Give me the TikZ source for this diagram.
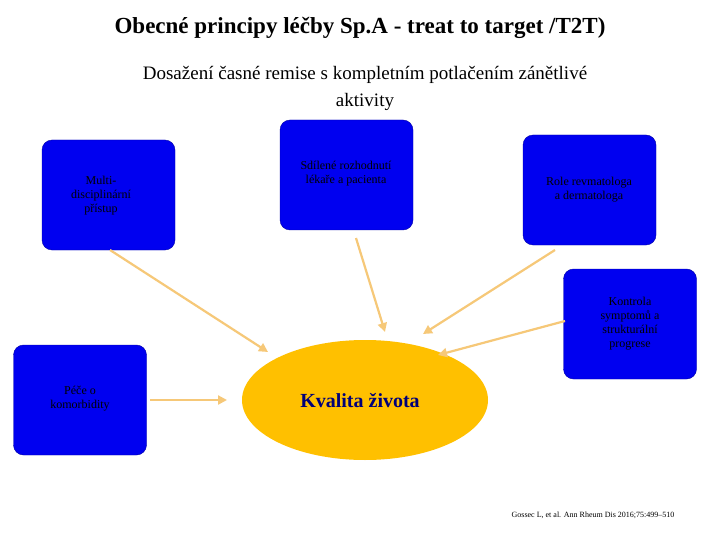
\documentclass[tikz,border=0pt]{standalone}
\usepackage{fontspec}
\setmainfont{Liberation Serif}
\usetikzlibrary{arrows.meta,shapes.geometric}
\definecolor{boxblue}{RGB}{0,0,240}
\definecolor{ell}{RGB}{255,192,0}
\definecolor{arr}{RGB}{246,200,120}
\begin{document}
\begin{tikzpicture}[x=1pt,y=-1pt,
  bbox/.style={draw=boxblue!70!black,fill=boxblue,rounded corners=10pt,minimum width=133pt,minimum height=110pt},
  txt/.style={font=\fontsize{12}{14}\selectfont,align=center,text=black},
  conn/.style={draw=arr,line width=2.2pt,-{Triangle[length=9pt,width=9pt]}}]
\useasboundingbox[fill=white] (0,0) rectangle (720,540);
\node[font=\bfseries\fontsize{23}{27}\selectfont] (title) at (360,28) {Obecné principy léčby Sp.A - treat to target /T2T)};
\node[font=\fontsize{19}{27}\selectfont,align=center] (sub) at (365,88) {Dosažení časné remise s kompletním potlačením zánětlivé\\aktivity};
\node[bbox] (b1) at (108.5,195) {};
\node[txt] at (101,196) {Multi-\\disciplinární\\přístup};
\node[bbox] (b2) at (346.5,175) {};
\node[txt] at (346,174) {Sdílené rozhodnutí\\lékaře a pacienta};
\node[bbox] (b3) at (589.5,190) {};
\node[txt] at (589,190) {Role revmatologa\\a dermatologa};
\node[bbox] (b4) at (630,324) {};
\node[txt] at (630,324) {Kontrola\\symptomů a\\strukturální\\progrese};
\node[bbox] (b5) at (80,400) {};
\node[txt] at (80,399) {Péče o\\komorbidity};
\node[ellipse,fill=ell,minimum width=246pt,minimum height=120pt,inner sep=0pt] (e) at (365,400) {};
\node[font=\bfseries\fontsize{20}{24}\selectfont,text=boxblue!50!black] at (360,401) {Kvalita života};
\coordinate (a1) at (268,352);
\coordinate (a2) at (385,332);
\coordinate (a3) at (423,334);
\coordinate (a4) at (438,355);
\coordinate (a5) at (227,400);
\draw[conn] (110,250) -- (a1);
\draw[conn] (356,238) -- (a2);
\draw[conn] (555,250) -- (a3);
\draw[conn] (565,321) -- (a4);
\draw[conn] (150,400) -- (a5);
\node[font=\fontsize{8}{10}\selectfont] (ref) at (593,515) {Gossec L, et al. Ann Rheum Dis 2016;75:499–510};
\end{tikzpicture}
\end{document}
